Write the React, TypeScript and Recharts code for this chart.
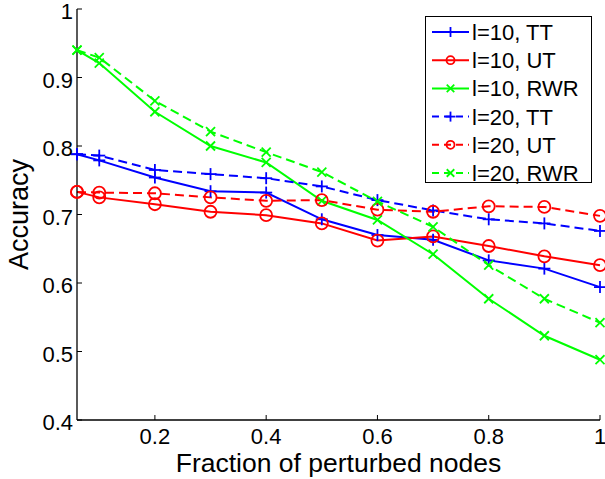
import { LineChart, Line, XAxis, YAxis, Legend } from 'recharts'

const fractions = [0.06, 0.1, 0.2, 0.3, 0.4, 0.5, 0.6, 0.7, 0.8, 0.9, 1]

const l10TT = [0.788, 0.779, 0.754, 0.734, 0.732, 0.693, 0.67, 0.663, 0.633, 0.621, 0.594]
const l10UT = [0.733, 0.725, 0.715, 0.704, 0.699, 0.687, 0.662, 0.668, 0.654, 0.639, 0.626]
const l10RWR = [0.94, 0.921, 0.85, 0.8, 0.776, 0.72, 0.692, 0.642, 0.577, 0.523, 0.488]
const l20TT = [0.788, 0.786, 0.765, 0.759, 0.753, 0.741, 0.721, 0.706, 0.693, 0.687, 0.676]
const l20UT = [0.733, 0.732, 0.731, 0.725, 0.72, 0.721, 0.707, 0.704, 0.712, 0.711, 0.698]
const l20RWR = [0.94, 0.929, 0.866, 0.821, 0.791, 0.762, 0.719, 0.682, 0.626, 0.577, 0.542]

const xTicks = [0.2, 0.4, 0.6, 0.8, 1]
const yTicks = [0.4, 0.5, 0.6, 0.7, 0.8, 0.9, 1]

const data = fractions.map((f, i) => ({
  f,
  l10TT: l10TT[i],
  l10UT: l10UT[i],
  l10RWR: l10RWR[i],
  l20TT: l20TT[i],
  l20UT: l20UT[i],
  l20RWR: l20RWR[i],
}))

type Kind = 'plus' | 'circle' | 'cross'

const series: { key: string; name: string; color: string; marker: Kind; dashed: boolean }[] = [
  { key: 'l10TT', name: 'l=10, TT', color: '#0000ff', marker: 'plus', dashed: false },
  { key: 'l10UT', name: 'l=10, UT', color: '#ff0000', marker: 'circle', dashed: false },
  { key: 'l10RWR', name: 'l=10, RWR', color: '#00ff00', marker: 'cross', dashed: false },
  { key: 'l20TT', name: 'l=20, TT', color: '#0000ff', marker: 'plus', dashed: true },
  { key: 'l20UT', name: 'l=20, UT', color: '#ff0000', marker: 'circle', dashed: true },
  { key: 'l20RWR', name: 'l=20, RWR', color: '#00ff00', marker: 'cross', dashed: true },
]

const FONT = '"Liberation Sans", Arial, Helvetica, sans-serif'
const DASH = '9 5'

function Marker({ kind, cx, cy, color, size }: { kind: Kind; cx: number; cy: number; color: string; size: number }) {
  if (kind === 'circle') {
    return <circle cx={cx} cy={cy} r={size} fill="none" stroke={color} strokeWidth={1.8} />
  }
  if (kind === 'plus') {
    return (
      <g stroke={color} strokeWidth={1.8}>
        <line x1={cx - size} y1={cy} x2={cx + size} y2={cy} />
        <line x1={cx} y1={cy - size} x2={cx} y2={cy + size} />
      </g>
    )
  }
  const d = size * 0.75
  return (
    <g stroke={color} strokeWidth={1.8}>
      <line x1={cx - d} y1={cy - d} x2={cx + d} y2={cy + d} />
      <line x1={cx - d} y1={cy + d} x2={cx + d} y2={cy - d} />
    </g>
  )
}

const LeftTick = (props: any) => {
  const { x, y, payload } = props
  return (
    <g>
      <line x1={x} y1={y} x2={x + 5} y2={y} stroke="#000" strokeWidth={1} />
      <text x={x - 4} y={y + 10} textAnchor="end" fontSize={22} fontFamily={FONT} fill="#000">
        {String(payload.value)}
      </text>
    </g>
  )
}

const BottomTick = (props: any) => {
  const { x, y, payload } = props
  return (
    <g>
      <line x1={x} y1={y} x2={x} y2={y - 5} stroke="#000" strokeWidth={1} />
      <text x={x} y={y + 24} textAnchor="middle" fontSize={22} fontFamily={FONT} fill="#000">
        {String(payload.value)}
      </text>
    </g>
  )
}

const TopTick = (props: any) => {
  const { x, y } = props
  return <line x1={x} y1={y} x2={x} y2={y + 5} stroke="#000" strokeWidth={1} />
}

const RightTick = (props: any) => {
  const { x, y } = props
  return <line x1={x} y1={y} x2={x - 5} y2={y} stroke="#000" strokeWidth={1} />
}

function LegendBox() {
  const rowH = 28.2
  return (
    <svg width={168} height={176} style={{ display: 'block', overflow: 'visible' }}>
      <rect x={0.5} y={0.5} width={166} height={166} fill="#fff" stroke="#000" strokeWidth={1} />
      {series.map((s, i) => {
        const cy = 16 + i * rowH
        return (
          <g key={s.key}>
            <line
              x1={7}
              y1={cy}
              x2={44}
              y2={cy}
              stroke={s.color}
              strokeWidth={2}
              strokeDasharray={s.dashed ? '7 5' : undefined}
            />
            <Marker kind={s.marker} cx={25.5} cy={cy} color={s.color} size={s.marker === 'circle' ? 4 : 5} />
            <text x={47} y={cy + 8} fontSize={22} fontFamily={FONT} fill="#000">
              {s.name}
            </text>
          </g>
        )
      })}
    </svg>
  )
}

export default function App() {
  return (
    <div style={{ width: 605, height: 479, background: '#fff' }}>
      <style>{'body{margin:0}'}</style>
      <LineChart width={605} height={479} data={data} margin={{ top: 9, right: 5, bottom: 0, left: 0 }}>
        <XAxis
          xAxisId="b"
          dataKey="f"
          type="number"
          domain={[0.06, 1]}
          ticks={xTicks}
          interval={0}
          height={59}
          tickSize={0}
          tickMargin={0}
          tickLine={false}
          axisLine={{ stroke: '#000', strokeWidth: 1.3 }}
          tick={<BottomTick />}
          label={({ viewBox }: any) => (
            <text
              x={viewBox.x + viewBox.width / 2}
              y={viewBox.y + 52}
              textAnchor="middle"
              fontSize={26.5}
              fontFamily={FONT}
              fill="#000"
            >
              Fraction of perturbed nodes
            </text>
          )}
        />
        <XAxis
          xAxisId="t"
          dataKey="f"
          type="number"
          orientation="top"
          domain={[0.06, 1]}
          ticks={xTicks}
          interval={0}
          height={0}
          tickSize={0}
          tickMargin={0}
          tickLine={false}
          axisLine={{ stroke: '#000', strokeWidth: 1.3 }}
          tick={<TopTick />}
        />
        <YAxis
          yAxisId="l"
          type="number"
          domain={[0.4, 1]}
          ticks={yTicks}
          interval={0}
          width={77}
          tickSize={0}
          tickMargin={0}
          tickLine={false}
          axisLine={{ stroke: '#000', strokeWidth: 1.3 }}
          tick={<LeftTick />}
          label={({ viewBox }: any) => {
            const cy = viewBox.y + viewBox.height / 2
            return (
              <text
                x={28}
                y={cy}
                transform={`rotate(-90 28 ${cy})`}
                textAnchor="middle"
                fontSize={27}
                fontFamily={FONT}
                fill="#000"
              >
                Accuracy
              </text>
            )
          }}
        />
        <YAxis
          yAxisId="r"
          type="number"
          orientation="right"
          domain={[0.4, 1]}
          ticks={yTicks}
          interval={0}
          width={0}
          tickSize={0}
          tickMargin={0}
          tickLine={false}
          axisLine={{ stroke: '#000', strokeWidth: 1.3 }}
          tick={<RightTick />}
        />
        {series.map((s) => (
          <Line
            key={s.key}
            xAxisId="b"
            yAxisId="l"
            dataKey={s.key}
            name={s.name}
            type="linear"
            stroke={s.color}
            strokeWidth={2}
            strokeDasharray={s.dashed ? DASH : undefined}
            isAnimationActive={false}
            activeDot={false}
            dot={(p: any) => (
              <Marker key={`${s.key}-${p.index}`} kind={s.marker} cx={p.cx} cy={p.cy} color={s.color} size={6} />
            )}
          />
        ))}
        <Legend
          layout="horizontal"
          align="center"
          verticalAlign="middle"
          wrapperStyle={{ left: 425, top: 16, width: 168, height: 176 }}
          content={() => <LegendBox />}
        />
      </LineChart>
    </div>
  )
}
